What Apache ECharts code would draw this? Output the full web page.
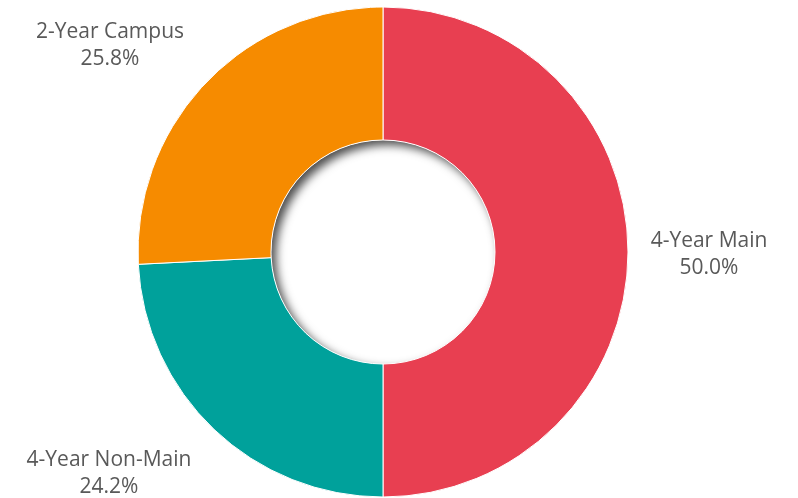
<!DOCTYPE html>
<html>
<head>
<meta charset="utf-8">
<script src="https://cdn.jsdelivr.net/npm/echarts@6/dist/echarts.min.js"></script>
<style>
  html, body { margin: 0; padding: 0; background: #fff; }
  #donut { width: 798px; height: 498px; }
</style>
</head>
<body>
<div id="donut"></div>
<script>
  // campus types and their share (%)
  const campusTypes = ['4-Year Main', '4-Year Non-Main', '2-Year Campus']
  const shares = [50.0, 24.2, 25.8]
  const sliceColors = ['#E83F51', '#00A19B', '#F68B00']

  // where each label sits (centre of text block, px)
  const labelSpots = [[709, 255], [109, 474], [110, 46]]

  let chart = echarts.init(document.getElementById('donut'))
  chart.setOption({
    animation: false,
    series: [
      {
        // shadow ring behind the donut, casts into the hole
        type: 'pie',
        silent: true,
        center: [383, 252],
        radius: [112, 160],
        z: 1,
        label: {show: false},
        labelLine: {show: false},
        itemStyle: {
          color: '#ffffff',
          shadowBlur: 10,
          shadowOffsetX: 5,
          shadowOffsetY: 5,
          shadowColor: 'rgba(0,0,0,0.7)'
        },
        data: [{value: 1}]
      },
      {
        type: 'pie',
        center: [383, 252],
        radius: [112, 245],
        startAngle: 90,
        clockwise: true,
        z: 2,
        itemStyle: {
          borderColor: '#ffffff',
          borderWidth: 1
        },
        label: {
          show: true,
          position: 'outside',
          formatter: p => p.name + '\n' + p.value.toFixed(1) + '%',
          fontFamily: 'Open Sans',
          fontSize: 21,
          lineHeight: 27,
          color: '#595959',
          align: 'center',
          overflow: 'none'
        },
        labelLine: {show: false},
        labelLayout: p => ({
          x: labelSpots[p.dataIndex][0],
          y: labelSpots[p.dataIndex][1],
          align: 'center',
          verticalAlign: 'middle'
        }),
        data: campusTypes.map((n, i) => ({
          name: n,
          value: shares[i],
          itemStyle: {color: sliceColors[i]}
        }))
      }
    ]
  })
</script>
</body>
</html>
